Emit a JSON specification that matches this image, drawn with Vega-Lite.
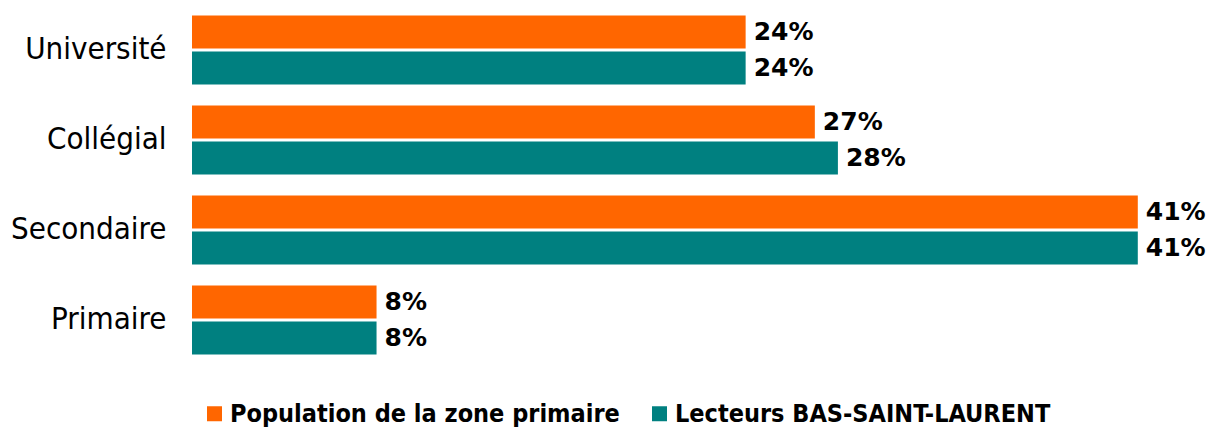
{
  "$schema": "https://vega.github.io/schema/vega-lite/v6.json",
  "width": 1015,
  "height": 360,
  "autosize": {"type": "none"},
  "padding": {"left": 192, "top": 5, "right": 4, "bottom": 65},
  "background": "white",
  "view": {"stroke": null},
  "data": {"values": [
    {"niveau": "Université", "serie": "Population de la zone primaire", "pct": 0.24},
    {"niveau": "Université", "serie": "Lecteurs BAS-SAINT-LAURENT", "pct": 0.24},
    {"niveau": "Collégial", "serie": "Population de la zone primaire", "pct": 0.27},
    {"niveau": "Collégial", "serie": "Lecteurs BAS-SAINT-LAURENT", "pct": 0.28},
    {"niveau": "Secondaire", "serie": "Population de la zone primaire", "pct": 0.41},
    {"niveau": "Secondaire", "serie": "Lecteurs BAS-SAINT-LAURENT", "pct": 0.41},
    {"niveau": "Primaire", "serie": "Population de la zone primaire", "pct": 0.08},
    {"niveau": "Primaire", "serie": "Lecteurs BAS-SAINT-LAURENT", "pct": 0.08}
  ]},
  "encoding": {
    "y": {
      "field": "niveau", "type": "nominal",
      "sort": ["Université", "Collégial", "Secondaire", "Primaire"],
      "scale": {"paddingInner": 0.233, "paddingOuter": 0.1167},
      "axis": {"title": null, "ticks": false, "domain": false, "labelFont": "DejaVu Sans Condensed", "labelFontSize": 31, "labelColor": "#000000", "labelPadding": 26}
    },
    "yOffset": {
      "field": "serie", "type": "nominal",
      "sort": ["Population de la zone primaire", "Lecteurs BAS-SAINT-LAURENT"],
      "scale": {"paddingInner": 0.0833, "paddingOuter": 0}
    },
    "x": {
      "field": "pct", "type": "quantitative",
      "scale": {"domain": [0, 0.44], "nice": false, "zero": true},
      "axis": null
    }
  },
  "layer": [
    {
      "mark": {"type": "bar"},
      "encoding": {
        "color": {
          "field": "serie", "type": "nominal",
          "scale": {"domain": ["Population de la zone primaire", "Lecteurs BAS-SAINT-LAURENT"], "range": ["#FF6600", "#008080"]},
          "legend": {
            "title": null, "orient": "none", "direction": "horizontal",
            "legendX": 10, "legendY": 396,
            "symbolType": "square", "symbolSize": 225, "symbolStrokeWidth": 0, "symbolOpacity": 1,
            "labelFont": "DejaVu Sans Condensed", "labelFontWeight": "bold", "labelFontSize": 25, "labelColor": "#000000",
            "labelOffset": 3, "columnPadding": 27, "labelLimit": 600
          }
        }
      }
    },
    {
      "mark": {"type": "text", "align": "left", "baseline": "middle", "dx": 8, "font": "DejaVu Sans", "fontWeight": "bold", "fontSize": 25, "color": "#000000"},
      "encoding": {
        "text": {"field": "pct", "type": "quantitative", "format": ".0%"}
      }
    }
  ]
}
